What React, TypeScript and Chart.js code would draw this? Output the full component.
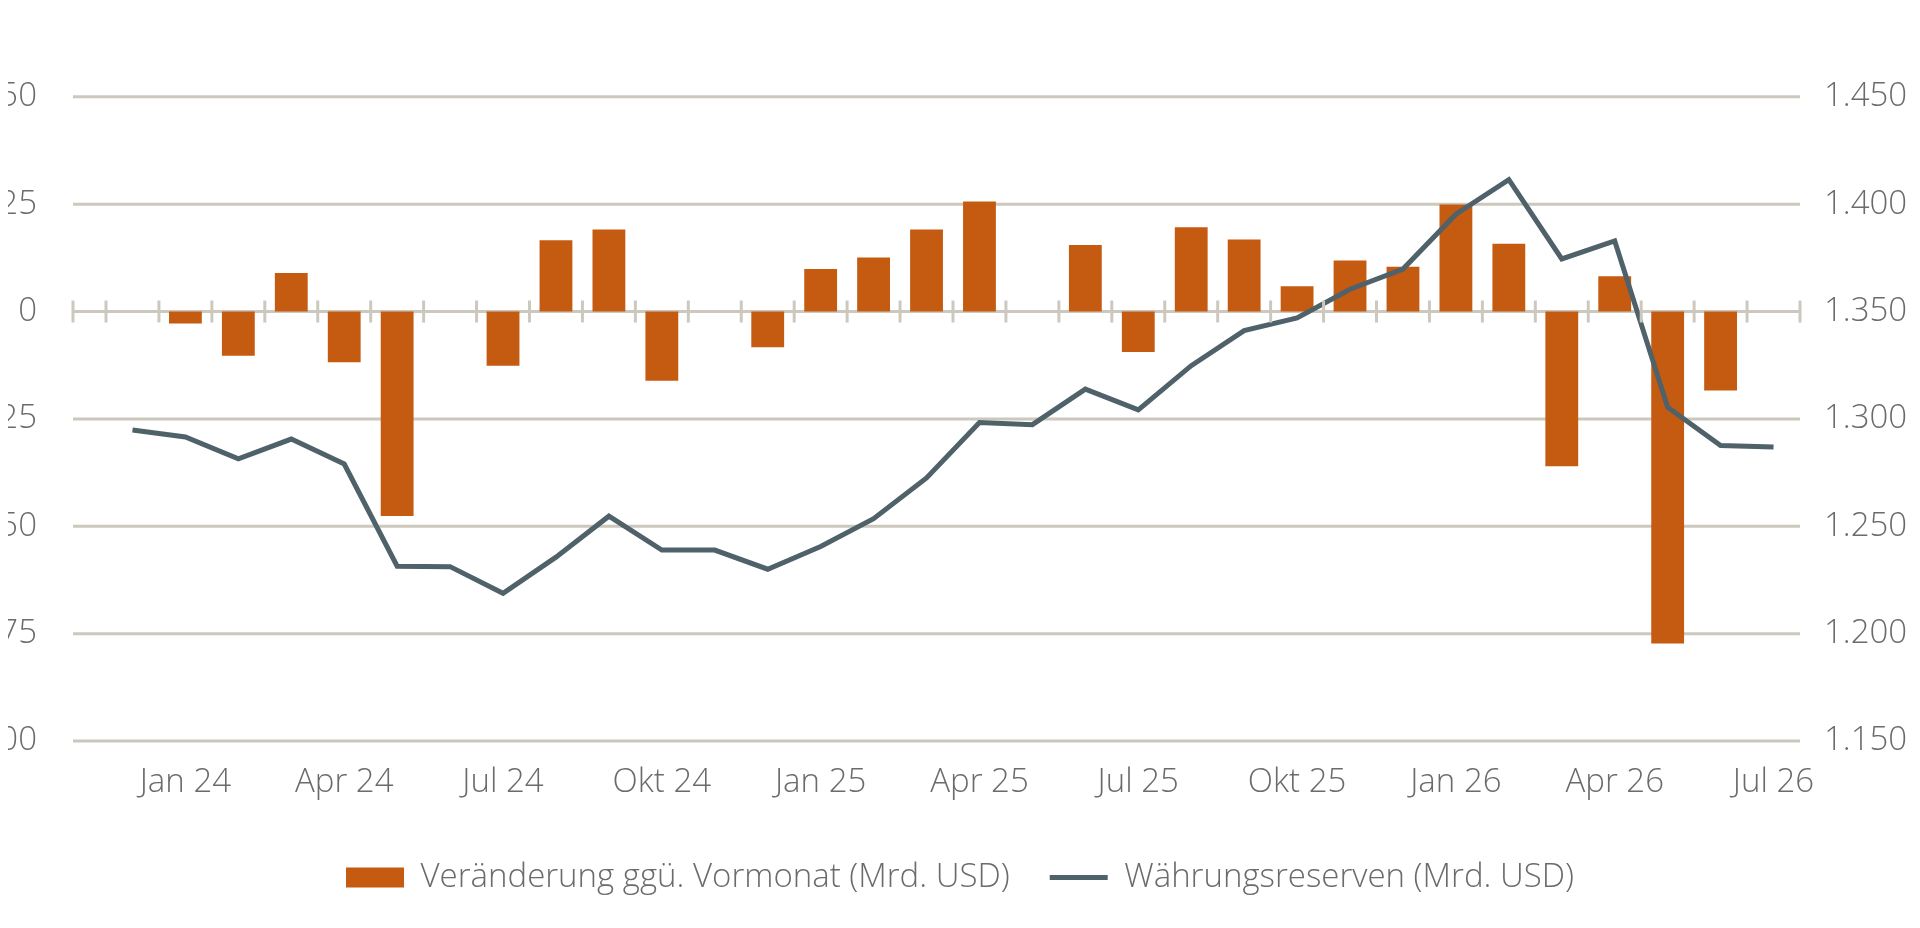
import React, { useEffect, useRef } from "react";
import { Chart, registerables } from "chart.js";
Chart.register(...registerables);

const months = ["Dez 23","Jan 24","Feb 24","Mär 24","Apr 24","Mai 24","Jun 24","Jul 24","Aug 24","Sep 24","Okt 24","Nov 24","Dez 24","Jan 25","Feb 25","Mär 25","Apr 25","Mai 25","Jun 25","Jul 25","Aug 25","Sep 25","Okt 25","Nov 25","Dez 25","Jan 26","Feb 26","Mär 26","Apr 26","Mai 26","Jun 26","Jul 26"];
const changes: (number | null)[] = [null,-2.8,-10.3,9.0,-11.8,-47.6,null,-12.6,16.6,19.1,-16.1,null,-8.3,9.9,12.6,19.1,25.6,null,15.5,-9.4,19.6,16.8,5.9,11.9,10.4,24.9,15.8,-36.0,8.2,-77.3,-18.4,null];
const reserves = [1294.8,1291.6,1281.4,1290.6,1279,1231.4,1231.2,1218.8,1235.6,1254.7,1238.9,1238.9,1230,1240.6,1253.5,1272.5,1298.3,1297.3,1313.9,1304.2,1324.8,1341.1,1347,1360.4,1369.8,1395.3,1411.4,1374.5,1382.9,1305.4,1287.6,1286.9];
const shownLabels = ["Jan 24","Apr 24","Jul 24","Okt 24","Jan 25","Apr 25","Jul 25","Okt 25","Jan 26","Apr 26","Jul 26"];
const leftTicks = [-100, -75, -50, -25, 0, 25, 50];

const GRID = "#cdc8bd";
const TEXT = "#6b6b6b";
const FONT = { family: "'Open Sans', sans-serif", size: 33, weight: 300 as any };
const GRID_EXT = 33;

const gridAndTicks = {
  id: "gridAndTicks",
  beforeDatasetsDraw(chart: any) {
    const y = chart.scales.y, ctx = chart.ctx, area = chart.chartArea;
    ctx.save();
    ctx.strokeStyle = GRID;
    ctx.lineWidth = 3;
    leftTicks.forEach((v) => {
      const py = y.getPixelForValue(v);
      ctx.beginPath();
      ctx.moveTo(area.left - GRID_EXT, py);
      ctx.lineTo(area.right, py);
      ctx.stroke();
    });
    ctx.restore();
  },
  afterDatasetsDraw(chart: any) {
    const x = chart.scales.x, y = chart.scales.y, ctx = chart.ctx, area = chart.chartArea;
    const y0 = y.getPixelForValue(0);
    const half = (x.getPixelForValue(1) - x.getPixelForValue(0)) / 2;
    ctx.save();
    ctx.strokeStyle = GRID;
    ctx.lineWidth = 3;
    const pts = [area.left - GRID_EXT];
    for (let i = 0; i <= months.length; i++) pts.push(x.getPixelForValue(0) - half + i * half * 2);
    pts.forEach((px) => {
      ctx.beginPath();
      ctx.moveTo(px, y0 - 11);
      ctx.lineTo(px, y0 + 11);
      ctx.stroke();
    });
    ctx.restore();
  },
};

export default function App() {
  const ref = useRef<HTMLCanvasElement>(null);
  useEffect(() => {
    const chart = new Chart(ref.current!, {
      type: "bar",
      data: {
        labels: months,
        datasets: [
          {
            type: "bar",
            label: "Veränderung ggü. Vormonat (Mrd. USD)",
            data: changes as any,
            backgroundColor: "#c55a11",
            borderWidth: 0,
            barPercentage: 0.62,
            categoryPercentage: 1,
            yAxisID: "y",
            order: 2,
            pointStyle: "rect",
          } as any,
          {
            type: "line",
            label: "Währungsreserven (Mrd. USD)",
            data: reserves,
            borderColor: "#4f6169",
            backgroundColor: "#4f6169",
            borderWidth: 5,
            pointRadius: 0,
            tension: 0,
            yAxisID: "y1",
            order: 1,
            pointStyle: "line",
          } as any,
        ],
      },
      options: {
        animation: false,
        responsive: true,
        maintainAspectRatio: false,
        layout: { padding: { top: 21, bottom: 16, left: 0, right: 0 } },
        plugins: {
          tooltip: { enabled: false },
          legend: {
            position: "bottom",
            labels: {
              usePointStyle: true,
              pointStyleWidth: 58,
              boxHeight: 20,
              padding: 40,
              color: TEXT,
              font: FONT,
              sort: (a: any, b: any) => a.datasetIndex - b.datasetIndex,
            },
          },
        },
        scales: {
          x: {
            grid: { display: false, drawTicks: false },
            border: { display: false },
            ticks: {
              autoSkip: false,
              maxRotation: 0,
              padding: 22,
              color: TEXT,
              font: FONT,
              callback: (_v: any, i: number) => (shownLabels.includes(months[i]) ? months[i] : ""),
            },
            afterFit: (s: any) => { s.height = 80; },
          },
          y: {
            position: "left",
            min: -100,
            max: 50,
            ticks: { stepSize: 25, color: TEXT, font: FONT, padding: 69 },
            grid: { display: false, drawTicks: false },
            border: { display: false },
            afterFit: (s: any) => { s.width = 98; },
          },
          y1: {
            position: "right",
            min: 1150,
            max: 1450,
            ticks: {
              stepSize: 50,
              color: TEXT,
              font: FONT,
              padding: 24,
              callback: (v: any) => Number(v).toLocaleString("de-DE"),
            },
            grid: { display: false, drawTicks: false },
            border: { display: false },
            afterFit: (s: any) => { s.width = 112; },
          },
        },
      },
      plugins: [gridAndTicks],
    });
    return () => chart.destroy();
  }, []);
  return (
    <div style={{ width: 1904, height: 912 }}>
      <canvas ref={ref} />
    </div>
  );
}
